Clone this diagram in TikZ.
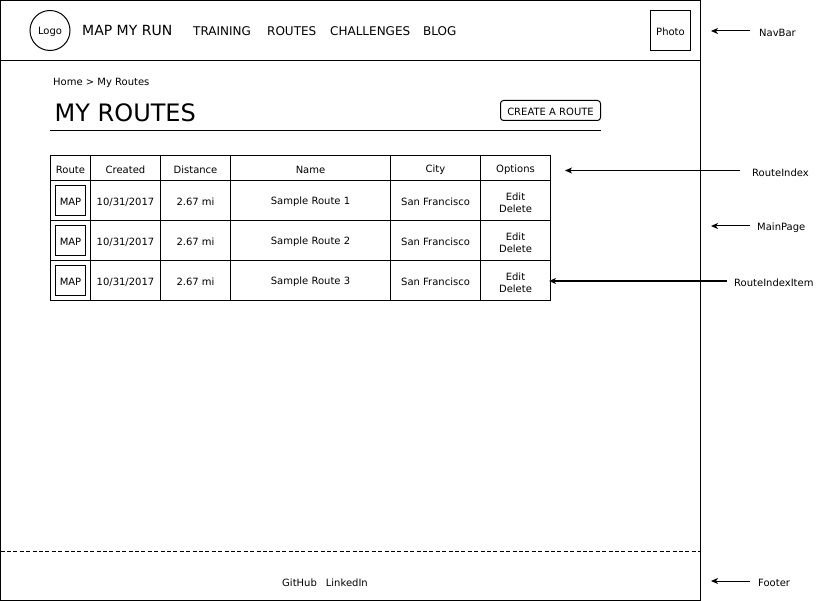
\documentclass[tikz,border=0pt]{standalone}
\usepackage{fontspec}
\setmainfont{DejaVu Sans}
\usetikzlibrary{arrows.meta}
\begin{document}
\begin{tikzpicture}[x=1pt,y=-1pt,
  every node/.style={inner sep=0pt},
  sm/.style={font=\fontsize{10}{12}\selectfont, execute at begin node={\rule{0pt}{10.4pt}}},
  frame/.style={draw=black, line width=1pt},
  cell/.style={sm, draw=black, line width=1pt, align=center},
  mapbox/.style={sm, draw=black, line width=1pt, minimum width=30pt, minimum height=30pt},
  nav/.style={font=\fontsize{12}{14}\selectfont, anchor=west},
  lbl/.style={sm, anchor=west},
  arr/.style={line width=1pt, -{Stealth[length=7pt,width=6pt,inset=2pt]}},
  dashline/.style={line width=1pt, dash pattern=on 4pt off 2.4pt}
]
\useasboundingbox (0,0) rectangle (826,601);
% page frame
\draw[frame] (0.5,0.5) rectangle (700.5,600.5);
\draw[frame] (0.5,61) -- (700.5,61);
\draw[dashline] (0.5,551) -- (700.5,551);

% navbar
\node[sm, draw, circle, line width=1pt, minimum size=40pt] (logo) at (50,30.5) {Logo};
\node[font=\fontsize{14}{16}\selectfont, anchor=west] (brand) at (82,31) {MAP MY RUN};
\node[nav] (training) at (193,31) {TRAINING};
\node[nav] (routes) at (267,31) {ROUTES};
\node[nav] (challenges) at (330,31) {CHALLENGES};
\node[nav] (blog) at (423,31) {BLOG};
\node[sm, draw, line width=1pt, minimum width=40pt, minimum height=40pt] (photo) at (670.5,30.5) {Photo};

% page heading
\node[sm, anchor=west] (crumb) at (53,81) {Home > My Routes};
\node[font=\fontsize{24}{28}\selectfont, anchor=west] (title) at (54.5,112.5) {MY ROUTES};
\node[sm, draw, line width=1pt, rounded corners=3pt, minimum width=100pt, minimum height=20pt] (create) at (550.5,110.5) {CREATE A ROUTE};
\coordinate (ulA) at (50,130.5);
\coordinate (ulB) at (600.5,130.5);
\draw[frame] (ulA) -- (ulB);

% table header
\node[cell, minimum width=40pt, minimum height=25pt] (hRoute) at (70.5,168) {Route};
\node[cell, minimum width=70pt, minimum height=25pt] (hCreated) at (125.5,168) {Created};
\node[cell, minimum width=70pt, minimum height=25pt] (hDist) at (195.5,168) {Distance};
\node[cell, minimum width=160pt, minimum height=25pt] (hName) at (310.5,168) {Name};
\node[cell, minimum width=90pt, minimum height=25pt] (hCity) at (435.5,168) {City};
\node[cell, minimum width=70pt, minimum height=25pt] (hOpt) at (515.5,168) {Options};

% rows
\foreach \i/\y in {1/200.5, 2/240.5, 3/280.5}{
  \node[cell, minimum width=40pt, minimum height=40pt] (r\i c1) at (70.5,\y) {};
  \node[mapbox] (map\i) at (70.5,\y) {MAP};
  \node[cell, minimum width=70pt, minimum height=40pt] (r\i c2) at (125.5,\y) {10/31/2017};
  \node[cell, minimum width=70pt, minimum height=40pt] (r\i c3) at (195.5,\y) {2.67 mi};
  \node[cell, minimum width=160pt, minimum height=40pt] (r\i c4) at (310.5,\y) {Sample Route \i};
  \node[cell, minimum width=90pt, minimum height=40pt] (r\i c5) at (435.5,\y) {San Francisco};
  \node[cell, minimum width=70pt, minimum height=40pt] (r\i c6) at (515.5,\y) {\rule{0pt}{12pt}Edit\\Delete};
}

% footer
\node[sm] (footer) at (325,581) {GitHub\hspace{9pt}LinkedIn};

% annotation labels
\node[lbl] (lNav) at (759,31) {NavBar};
\node[lbl] (lIndex) at (752,171) {RouteIndex};
\node[lbl] (lMain) at (757,226.5) {MainPage};
\node[lbl] (lItem) at (734,281.5) {RouteIndexItem};
\node[lbl] (lFoot) at (758,581.5) {Footer};

\coordinate (tNav) at (711,31);
\coordinate (tIndex) at (565,170.5);
\coordinate (tMain) at (711,226);
\coordinate (tItem) at (549,281);
\coordinate (tFoot) at (711,581);

\draw[arr] ([xshift=-9pt]lNav.west |- tNav) -- (tNav);
\draw[arr] ([xshift=-12pt]lIndex.west |- tIndex) -- (tIndex);
\draw[arr] ([xshift=-7pt]lMain.west |- tMain) -- (tMain);
\draw[arr] ([xshift=-7pt]lItem.west |- tItem) -- (tItem);
\draw[arr] ([xshift=-8pt]lFoot.west |- tFoot) -- (tFoot);
\end{tikzpicture}
\end{document}
